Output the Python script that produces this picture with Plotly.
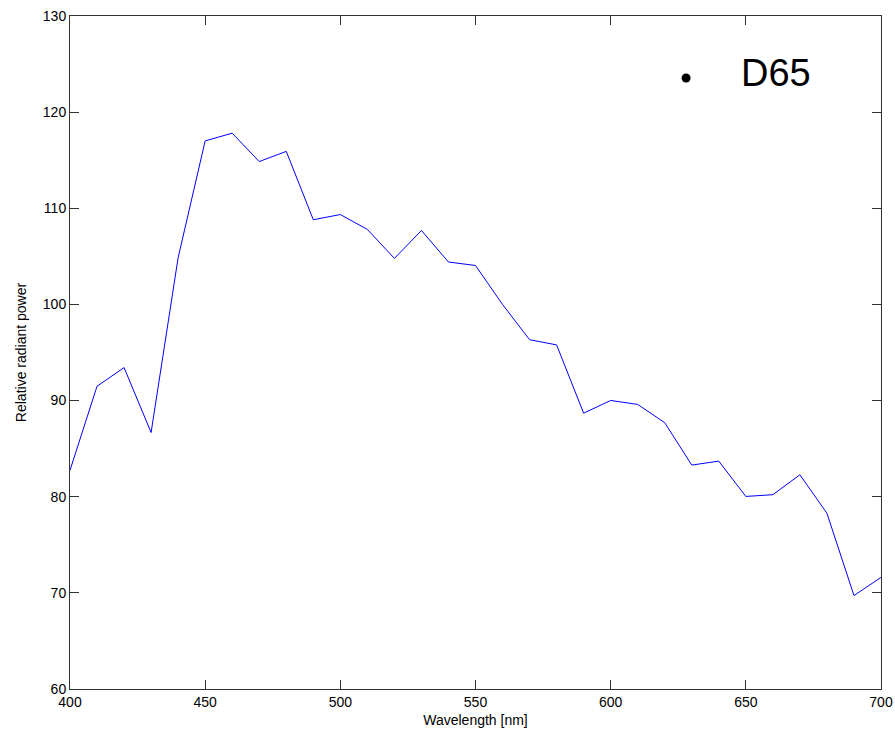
import plotly.graph_objects as go

wavelength = [400, 410, 420, 430, 440, 450, 460, 470, 480, 490, 500, 510, 520, 530, 540, 550,
              560, 570, 580, 590, 600, 610, 620, 630, 640, 650, 660, 670, 680, 690, 700]
power = [82.75, 91.49, 93.43, 86.68, 104.86, 117.01, 117.81, 114.86, 115.92, 108.81, 109.35,
         107.80, 104.79, 107.69, 104.41, 104.05, 100.00, 96.33, 95.79, 88.69, 90.01, 89.60,
         87.70, 83.29, 83.70, 80.03, 80.21, 82.28, 78.28, 69.72, 71.61]
label = "D65"
xticks = [400, 450, 500, 550, 600, 650, 700]
yticks = [60, 70, 80, 90, 100, 110, 120, 130]

fig = go.Figure()
fig.add_trace(go.Scatter(x=wavelength, y=power, mode="lines",
                         line=dict(color="#0000ff", width=1), showlegend=False))
fig.add_trace(go.Scatter(x=[627.9], y=[123.55], mode="markers",
                         marker=dict(color="black", size=9), showlegend=False))
fig.add_annotation(x=647.5, y=124.1, text=label, showarrow=False, xanchor="left",
                   yanchor="middle", font=dict(size=38, color="black", family="Liberation Sans, Arial"))

axis_common = dict(showgrid=False, zeroline=False, ticks="inside", ticklen=9, tickwidth=1,
                   tickcolor="#333", showline=True, linecolor="#333", linewidth=1,
                   mirror="ticks", automargin=False, tickfont=dict(size=14, color="black"))
fig.update_xaxes(range=[400, 700], tickvals=xticks, title=dict(text="Wavelength [nm]", standoff=6,
                 font=dict(size=14, color="black")), **axis_common)
fig.update_yaxes(range=[60, 130], tickvals=yticks, title=dict(text="Relative radiant power", standoff=12,
                 font=dict(size=14, color="black")), **axis_common)
fig.update_layout(width=895, height=740, margin=dict(l=70, r=14, t=16, b=51),
                  plot_bgcolor="white", paper_bgcolor="white",
                  font=dict(family="Liberation Sans, Arial", color="black"))
fig.write_html("out.html")
